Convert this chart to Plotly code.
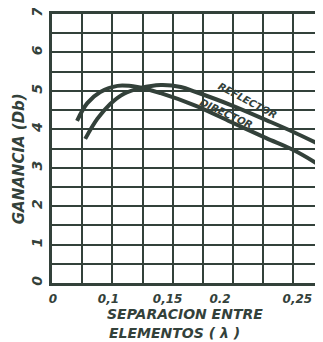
import plotly.graph_objects as go

# x in grid divisions (hand-drawn scale), y = gain (dB)
director_x = [0.83, 1.17, 1.6, 2.17, 2.83, 3.6, 4.77, 5.93, 7.1, 8.0, 9.03]
director_y = [4.22, 4.68, 4.97, 5.13, 5.10, 4.94, 4.61, 4.19, 3.77, 3.46, 2.99]
reflector_x = [1.1, 1.5, 1.93, 2.37, 2.93, 3.6, 4.27, 4.77, 5.93, 7.1, 8.0, 9.03]
reflector_y = [3.75, 4.27, 4.66, 4.92, 5.07, 5.15, 5.10, 4.97, 4.63, 4.24, 3.93, 3.54]

x_tick_pos = [0.03, 1.87, 3.83, 5.57, 8.13]
x_tick_text = ["0", "0,1", "0,15", "0.2", "0,25"]
y_tick_vals = [0, 1, 2, 3, 4, 5, 6, 7]

INK = "#33413a"


def f(size):
    return dict(family="DejaVu Sans", size=size, color=INK, weight="bold", style="italic")


fig = go.Figure()
fig.add_trace(go.Scatter(x=director_x, y=director_y, mode="lines",
                         line=dict(color=INK, width=4, shape="spline"), name="DIRECTOR"))
fig.add_trace(go.Scatter(x=reflector_x, y=reflector_y, mode="lines",
                         line=dict(color=INK, width=4, shape="spline"), name="REFLECTOR"))

# page body has an 8px default margin, so the figure is offset by (8, 8)
fig.update_layout(
    width=315, height=334,
    margin=dict(l=44, r=0, t=6, b=59),
    paper_bgcolor="white", plot_bgcolor="white",
    showlegend=False,
    xaxis=dict(range=[0, 8.98], tickmode="array", tickvals=x_tick_pos, ticktext=x_tick_text,
               showgrid=False, showline=True, mirror=True, linecolor=INK, linewidth=2.5,
               ticks="", tickfont=f(12), zeroline=False, ticklabelstandoff=3,
               ticklabeloverflow="allow",
               minor=dict(tickmode="linear", tick0=0, dtick=1, showgrid=True,
                          gridcolor=INK, gridwidth=2, ticks="")),
    yaxis=dict(range=[0, 7], tickmode="array", tickvals=y_tick_vals,
               showgrid=True, gridcolor=INK, gridwidth=2,
               showline=True, linecolor=INK, linewidth=2.5, mirror=False,
               ticks="", tickfont=f(14), tickangle=-90, zeroline=False, ticklabelstandoff=2,
               ticklabeloverflow="allow",
               minor=dict(dtick=0.5, showgrid=True, gridcolor=INK, gridwidth=2, ticks="")),
)

fig.add_annotation(text="GANANCIA (Db)", xref="paper", yref="paper", x=0, y=0.46,
                   xanchor="center", yanchor="middle", xshift=-33, textangle=-90,
                   showarrow=False, font=f(15))
fig.add_annotation(text="SEPARACION ENTRE", xref="paper", yref="paper", x=0.5, y=0,
                   xanchor="center", yanchor="middle", xshift=-3, yshift=-31,
                   showarrow=False, font=f(14))
fig.add_annotation(text="ELEMENTOS ( λ )", xref="paper", yref="paper", x=0.5, y=0,
                   xanchor="center", yanchor="middle", xshift=-13, yshift=-50,
                   showarrow=False, font=f(14))
fig.add_annotation(text="REFLECTOR", x=6.47, y=4.74, textangle=28, showarrow=False, font=f(10))
fig.add_annotation(text="DIRECTOR", x=5.77, y=4.42, textangle=25, showarrow=False, font=f(10))

fig.write_html("out.html")
